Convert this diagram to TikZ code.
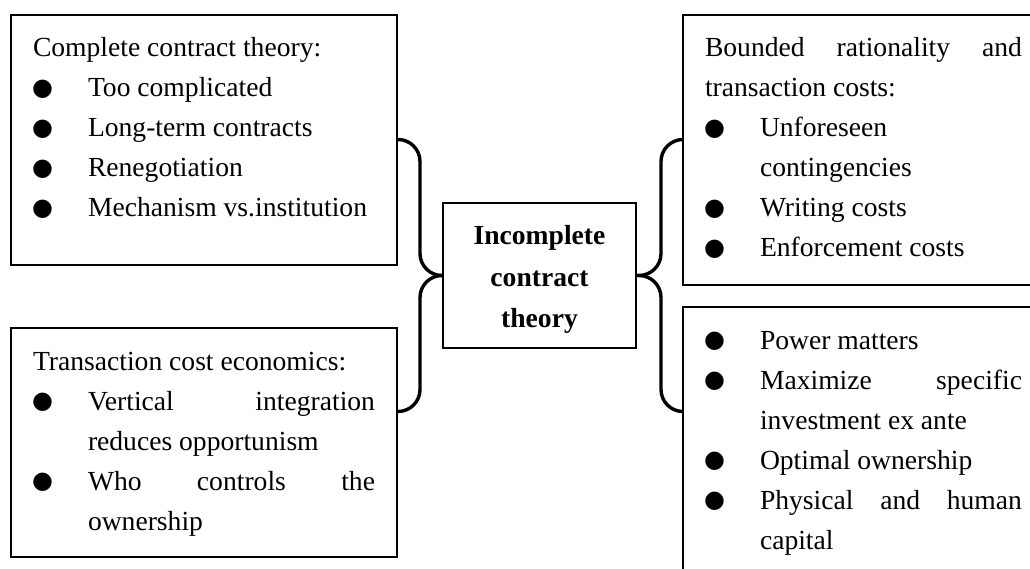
\documentclass[tikz,border=0pt]{standalone}
\usepackage{fontspec}
\setmainfont{Liberation Serif}
\newfontfamily\dotfont{DejaVu Sans}
\usetikzlibrary{calc}
% list bullet and hanging item
\newcommand{\bul}{\raisebox{1.5pt}{\dotfont\fontsize{24}{24}\selectfont ●}}
\newcommand{\bitem}[1]{\par\hangindent=55pt\hangafter=1\noindent\makebox[55pt][l]{\hspace{-1pt}\bul}\strut #1}
\newcommand{\boxset}{\hyphenpenalty=10000 \tolerance=10000 \fontsize{27.6}{40}\selectfont}

\begin{document}
\begin{tikzpicture}[x=1pt, y=-1pt, every node/.style={outer sep=0pt},
  itembox/.style={draw, line width=1.4pt, anchor=north west, inner xsep=22pt, inner ysep=14pt},
  brace/.style={line width=3.4pt, rounded corners=22pt}]
  \clip (0,0) rectangle (1030,569);
  \node[draw, line width=1.4pt, minimum width=193pt, minimum height=145pt, align=center,
        font=\fontsize{27.6}{41.5}\selectfont\bfseries] (inc) at (539.5,275.5) {\rule{0pt}{27pt}Incomplete\\contract\\theory};
  \node[itembox] (ctt) at (11,15) {\parbox[c][222pt][t]{342pt}{\boxset
    \strut Complete contract theory:
    \bitem{Too complicated}
    \bitem{Long-term contracts}
    \bitem{Renegotiation}
    \bitem{Mechanism vs.institution}}};
  \node[itembox] (tce) at (11,328) {\parbox[c][201pt][t]{342pt}{\boxset
    \strut Transaction cost economics:
    \bitem{Vertical integration reduces opportunism}
    \bitem{Who controls the ownership}}};
  \node[itembox] (brt) at (683,15) {\parbox[c][242pt][t]{317pt}{\boxset
    \strut Bounded rationality and transaction costs:
    \bitem{Unforeseen contingencies}
    \bitem{Writing costs}
    \bitem{Enforcement costs}}\rule{40pt}{0pt}};
  \node[itembox] (ppr) at (683,307) {\parbox[c][262pt][t]{317pt}{\boxset
    \bitem{Power matters}
    \bitem{Maximize specific investment ex ante}
    \bitem{Optimal ownership}
    \bitem{Physical and human capital}}\rule{40pt}{0pt}};
  % brace ends
  \coordinate (bt) at ($(inc.center)+(0,-136)$);
  \coordinate (bb) at ($(inc.center)+(0,136)$);
  \coordinate (lm) at ($(inc.west)+(-23,0)$);
  \coordinate (rm) at ($(inc.east)+(25,0)$);
  \draw[brace] (ctt.east |- bt) -| (lm) -- (inc.west);
  \draw[brace] (inc.west) -- (lm) |- (tce.east |- bb);
  \draw[brace] (brt.west |- bt) -| (rm) -- (inc.east);
  \draw[brace] (inc.east) -- (rm) |- (ppr.west |- bb);
\end{tikzpicture}
\end{document}
